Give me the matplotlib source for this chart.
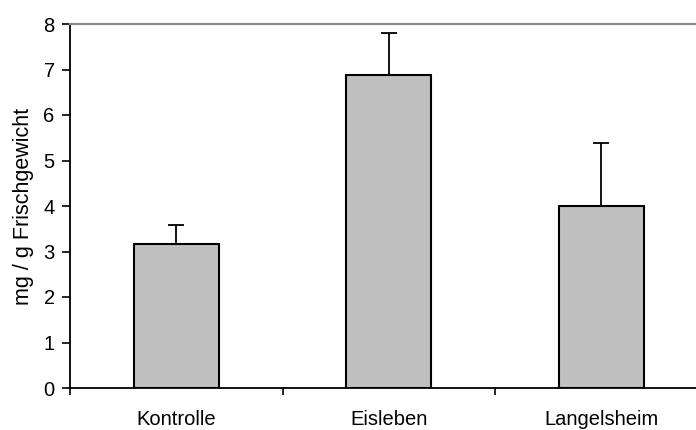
import matplotlib
matplotlib.use("Agg")
import matplotlib.pyplot as plt
import numpy as np

categories = ["Kontrolle", "Eisleben", "Langelsheim"]
values = [3.16, 6.88, 4.01]
errors = [0.42, 0.92, 1.37]
y_ticks = [0, 1, 2, 3, 4, 5, 6, 7, 8]
y_label = "mg / g Frischgewicht"

plt.rcParams['font.family'] = ['Liberation Sans', 'DejaVu Sans']
FS = 14.5

fig = plt.figure(figsize=(6.96, 4.30), dpi=100)
ax = fig.add_axes([70/696, 42/430, 637.5/696, 364/430])

x = np.arange(len(categories))
ax.bar(x, values, width=0.4, color="#C0C0C0", edgecolor="black", linewidth=1.5, zorder=2)
ax.errorbar(x, values, yerr=[np.zeros(len(errors)), errors], fmt="none",
            ecolor="black", elinewidth=1.3, capsize=5.6, capthick=1.3, zorder=1)

ax.set_xlim(-0.5, 2.5)
ax.set_ylim(0, 8)
ax.set_yticks(y_ticks)
ax.set_yticklabels([str(t) for t in y_ticks], fontsize=FS)
ax.set_xticks([-0.5, 0.5, 1.5, 2.5])
ax.set_xticklabels([])
ax.set_xticks(x, minor=True)
ax.set_xticklabels(categories, minor=True, fontsize=FS)
ax.tick_params(axis="x", which="major", direction="out", length=5, width=1.2)
ax.tick_params(axis="x", which="minor", length=0, pad=16)
ax.tick_params(axis="y", direction="out", length=6, width=1.2, pad=5)

ax.set_ylabel(y_label, fontsize=15.5, labelpad=7)

for s in ["left", "bottom"]:
    ax.spines[s].set_color("black")
    ax.spines[s].set_linewidth(1.3)
ax.spines["top"].set_color("#888888")
ax.spines["top"].set_linewidth(1.6)
ax.spines["right"].set_visible(False)

fig.savefig("out.png", dpi=100)
